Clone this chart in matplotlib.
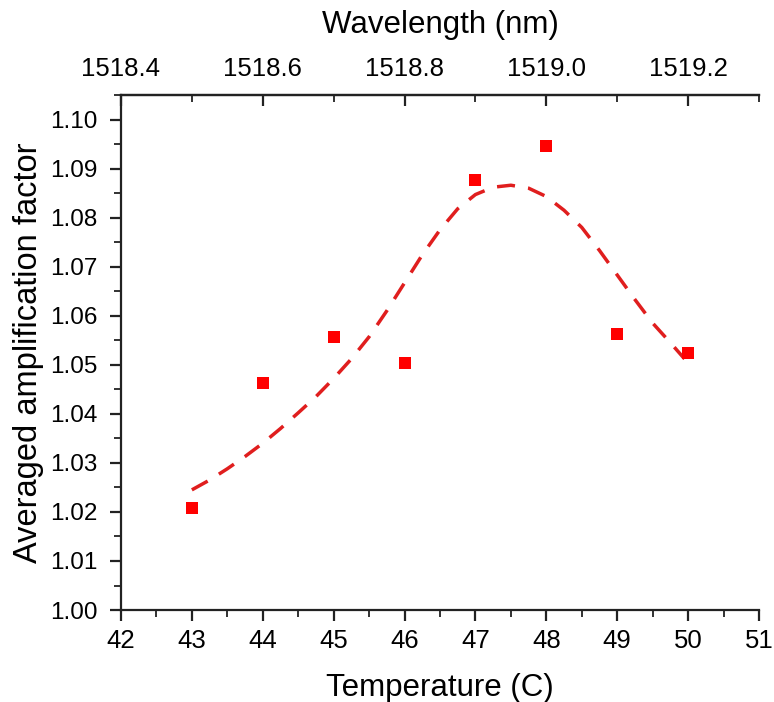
import matplotlib.pyplot as plt
from matplotlib.ticker import MultipleLocator, FixedLocator, FormatStrFormatter

plt.rcParams['font.family'] = ['Liberation Sans', 'DejaVu Sans']

# Measured points
temperature = [43, 44, 45, 46, 47, 48, 49, 50]
amplification = [1.0207, 1.0462, 1.0557, 1.0503, 1.0876, 1.0946, 1.0563, 1.0524]

# Fit curve
fit_temp = [43.0, 43.25, 43.5, 43.75, 44.0, 44.25, 44.5, 44.75, 45.0, 45.25,
            45.5, 45.75, 46.0, 46.25, 46.5, 46.75, 47.0, 47.25, 47.5, 47.75,
            48.0, 48.25, 48.5, 48.75, 49.0, 49.25, 49.5, 49.75, 49.95]
fit_amp = [1.0245, 1.0265, 1.0288, 1.0313, 1.0340, 1.0370, 1.0402, 1.0435, 1.0472, 1.0512,
           1.0557, 1.0610, 1.0667, 1.0724, 1.0775, 1.0818, 1.0847, 1.0862, 1.0866, 1.0860,
           1.0843, 1.0815, 1.0780, 1.0733, 1.0683, 1.0633, 1.0585, 1.0545, 1.0512]

# wavelength axis: 1518.4 nm at 42 C, 0.1 nm per degree
wl_start = 1518.4
wl_per_deg = 0.1
t_start = 42
wl_major = [1518.4, 1518.6, 1518.8, 1519.0, 1519.2]
wl_minor = [1518.5, 1518.7, 1518.9, 1519.1, 1519.3]

fig = plt.figure(figsize=(7.74, 7.02), dpi=100)
ax = fig.add_axes([0.1563, 0.131, 0.8243, 0.7337])

ax.plot(fit_temp, fit_amp, color='#e01e1e', lw=2.5, dashes=(5.2, 3.8))
ax.plot(temperature, amplification, 's', color='#ff0000', markersize=9, markeredgewidth=0)

ax.set_xlim(42, 51)
ax.set_ylim(1.0, 1.105)
ax.xaxis.set_major_locator(MultipleLocator(1))
ax.xaxis.set_minor_locator(MultipleLocator(0.5))
ax.yaxis.set_major_locator(MultipleLocator(0.01))
ax.yaxis.set_minor_locator(MultipleLocator(0.005))
ax.yaxis.set_major_formatter(FormatStrFormatter('%.2f'))

for s in ['left', 'bottom', 'top']:
    ax.spines[s].set_linewidth(1.6)
    ax.spines[s].set_color('#222222')
ax.spines['right'].set_visible(False)

ax.tick_params(which='major', direction='out', length=8, width=1.6, labelsize=18.5,
               color='#222222', pad=6)
ax.tick_params(axis='y', which='major', labelsize=17.5, pad=9)
ax.tick_params(which='minor', direction='out', length=5, width=1.3, color='#222222')
ax.tick_params(top=False, right=False)

ax.set_xlabel('Temperature (C)', fontsize=22.5, labelpad=14)
ax.set_ylabel('Averaged amplification factor', fontsize=23.5, labelpad=4)

top = ax.secondary_xaxis('top', functions=(lambda t: wl_start + (t - t_start) * wl_per_deg,
                                           lambda w: t_start + (w - wl_start) / wl_per_deg))
top.xaxis.set_major_locator(FixedLocator(wl_major))
top.xaxis.set_minor_locator(FixedLocator(wl_minor))
top.xaxis.set_major_formatter(FormatStrFormatter('%.1f'))
top.spines['top'].set_linewidth(1.6)
top.spines['top'].set_color('#222222')
top.tick_params(which='major', direction='in', length=8, width=1.6, labelsize=18.5,
                color='#222222', pad=10)
top.tick_params(which='minor', direction='in', length=5, width=1.3, color='#222222')
top.set_xlabel('Wavelength (nm)', fontsize=22.5, labelpad=17)

fig.savefig('out.png', dpi=100)
